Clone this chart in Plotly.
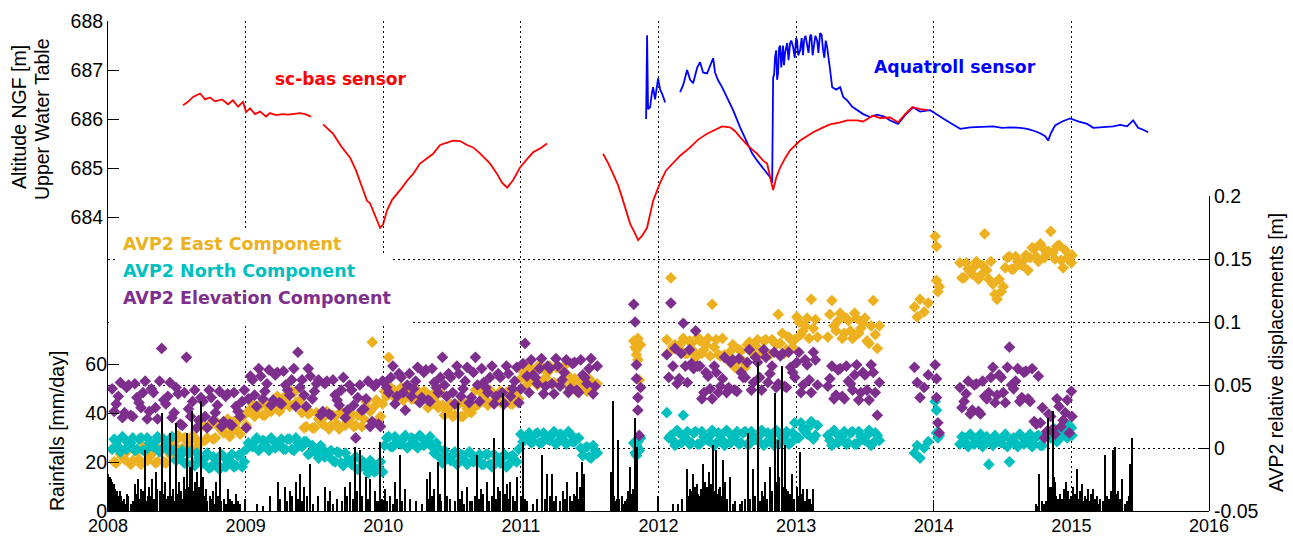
import plotly.graph_objects as go

# ---------------- Upper water table (m NGF) ----------------
t_scbas = [2008.545, 2008.581, 2008.618, 2008.669, 2008.705, 2008.741, 2008.778, 2008.828, 2008.872, 2008.908,
           2008.945, 2008.981, 2009.003, 2009.032, 2009.068, 2009.105, 2009.148, 2009.177, 2009.221, 2009.265,
           2009.308, 2009.359, 2009.395, 2009.432, 2009.475, None,
           2009.563, 2009.635, 2009.693, 2009.759, 2009.802, 2009.831, 2009.882, 2009.904, 2009.926, 2009.955,
           2009.977, 2009.999, 2010.027, 2010.064, 2010.100, 2010.137, 2010.173, 2010.217, 2010.267, 2010.318,
           2010.362, 2010.413, 2010.464, 2010.507, 2010.558, 2010.609, 2010.653, 2010.703, 2010.776, 2010.827,
           2010.863, 2010.900, 2010.943, 2010.994, 2011.045, 2011.089, 2011.140, 2011.190, None,
           2011.597, 2011.634, 2011.670, 2011.706, 2011.735, 2011.765, 2011.794, 2011.823, 2011.852, 2011.881,
           2011.917, 2011.961, 2012.012, 2012.055, 2012.106, 2012.157, 2012.230, 2012.288, 2012.353, 2012.411,
           2012.462, 2012.520, 2012.557, 2012.593, 2012.651, 2012.717, 2012.760, 2012.789, 2012.811, 2012.833,
           2012.855, 2012.884, 2012.920, 2012.956, 2013.029, 2013.124, 2013.189, 2013.247, 2013.320, 2013.371,
           2013.443, 2013.487, 2013.560, 2013.610, 2013.683, 2013.741, 2013.792, 2013.843, 2013.901, 2013.959]
v_scbas = [686.28, 686.35, 686.45, 686.52, 686.40, 686.44, 686.36, 686.40, 686.30, 686.38,
           686.25, 686.35, 686.14, 686.22, 686.10, 686.15, 686.05, 686.12, 686.08, 686.10,
           686.09, 686.10, 686.12, 686.10, 686.05, None,
           685.89, 685.70, 685.45, 685.21, 684.95, 684.74, 684.33, 684.28, 684.13, 683.92,
           683.78, 683.85, 684.13, 684.35, 684.47, 684.60, 684.74, 684.88, 685.09, 685.20,
           685.29, 685.47, 685.52, 685.56, 685.55, 685.47, 685.42, 685.30, 685.09, 684.88,
           684.70, 684.60, 684.75, 685.01, 685.18, 685.32, 685.40, 685.50, None,
           685.29, 685.10, 684.88, 684.65, 684.40, 684.12, 683.86, 683.70, 683.53, 683.62,
           683.78, 684.33, 684.70, 684.95, 685.09, 685.25, 685.42, 685.58, 685.70, 685.78,
           685.85, 685.83, 685.75, 685.63, 685.45, 685.29, 685.15, 685.09, 684.85, 684.55,
           684.80, 685.01, 685.20, 685.36, 685.56, 685.73, 685.82, 685.89, 685.93, 685.97,
           685.97, 685.95, 686.07, 686.02, 686.03, 685.93, 686.10, 686.24, 686.20, 686.18]

t_aqua = [2011.910, 2011.917, 2011.924, 2011.939, 2011.953, 2011.961, 2011.975, 2011.990, 2011.997, 2012.012,
          2012.026, 2012.048, None,
          2012.157, 2012.180, 2012.208, 2012.230, 2012.252, 2012.281, 2012.302, 2012.324, 2012.353, 2012.375,
          2012.397, 2012.411, 2012.433, 2012.462, 2012.498, 2012.542, 2012.593, 2012.644, 2012.680, 2012.717,
          2012.775, 2012.811, 2012.826, 2012.833, 2012.840, 2012.847, 2012.855, 2012.862, 2012.869, 2012.876,
          2012.884, 2012.892, 2012.905, 2012.912, 2012.920, 2012.935, 2012.945, 2012.956, 2012.965, 2012.978,
          2012.990, 2013.000, 2013.007, 2013.015, 2013.029, 2013.040, 2013.050, 2013.058, 2013.068, 2013.080,
          2013.090, 2013.102, 2013.110, 2013.120, 2013.131, 2013.140, 2013.153, 2013.162, 2013.174, 2013.185,
          2013.196, 2013.205, 2013.215, 2013.225,
          2013.247, 2013.262, 2013.291, 2013.320, 2013.342, 2013.371, 2013.408, 2013.443, 2013.487, 2013.538,
          2013.589, 2013.640, 2013.683, 2013.741, 2013.792, 2013.850, 2013.901, 2013.974, 2014.025, 2014.068,
          2014.134, 2014.192, 2014.265, 2014.337, 2014.432, 2014.497, 2014.555, 2014.628, 2014.680, 2014.737,
          2014.773, 2014.810, 2014.831, 2014.853, 2014.882, 2014.933, 2014.991, 2015.049, 2015.115, 2015.159,
          2015.209, 2015.260, 2015.304, 2015.355, 2015.405, 2015.449, 2015.485, 2015.522, 2015.558]
v_aqua = [686.00, 687.71, 686.20, 686.24, 686.55, 686.65, 686.40, 686.75, 686.83, 686.60,
          686.52, 686.34, None,
          686.55, 686.70, 687.00, 686.80, 686.73, 687.05, 687.16, 686.95, 686.93, 687.10,
          687.24, 686.95, 686.79, 686.65, 686.45, 686.18, 685.83, 685.50, 685.30, 685.15,
          684.95, 684.81, 684.70, 686.85, 686.90, 687.27, 687.40, 686.80, 686.95, 687.45,
          687.50, 687.05, 687.50, 687.10, 687.35, 687.55, 687.20, 687.55, 687.60, 687.47,
          687.25, 687.65, 687.60, 687.30, 687.40, 687.65, 687.30, 687.62, 687.70, 687.45,
          687.35, 687.70, 687.72, 687.30, 687.48, 687.70, 687.60, 687.35, 687.75, 687.72,
          687.40, 687.25, 687.60, 687.47,
          687.00, 686.65, 686.60, 686.65, 686.45, 686.38, 686.25, 686.18, 686.10, 686.04,
          686.09, 686.05, 685.97, 685.90, 686.08, 686.24, 686.15, 686.18, 686.08, 686.01,
          685.90, 685.80, 685.83, 685.84, 685.85, 685.82, 685.83, 685.82, 685.80, 685.75,
          685.71, 685.65, 685.56, 685.72, 685.87, 685.95, 686.01, 685.95, 685.90, 685.82,
          685.83, 685.85, 685.85, 685.88, 685.85, 685.97, 685.82, 685.78, 685.73]

# ---------------- AVP2 relative displacements (m) ----------------
# block 1 : 2008 - mid 2011 (two interleaved sample sets)
t_b1 = [2008.03, 2008.06, 2008.09, 2008.12, 2008.15, 2008.18, 2008.21, 2008.24, 2008.27, 2008.30,
        2008.33, 2008.36, 2008.39, 2008.42, 2008.45, 2008.48, 2008.51, 2008.54, 2008.57, 2008.60,
        2008.63, 2008.66, 2008.69, 2008.72, 2008.75, 2008.78, 2008.81, 2008.84, 2008.87, 2008.90,
        2008.93, 2008.96, 2008.99, 2009.02, 2009.05, 2009.08, 2009.11, 2009.14, 2009.17, 2009.20,
        2009.23, 2009.26, 2009.29, 2009.32, 2009.35, 2009.38, 2009.41, 2009.44, 2009.47, 2009.50,
        2009.53, 2009.56, 2009.59, 2009.62, 2009.65, 2009.68, 2009.71, 2009.74, 2009.77, 2009.80,
        2009.83, 2009.86, 2009.89, 2009.92, 2009.95, 2009.98, 2010.01, 2010.04, 2010.07, 2010.10,
        2010.13, 2010.16, 2010.19, 2010.22, 2010.25, 2010.28, 2010.31, 2010.34, 2010.37, 2010.40,
        2010.43, 2010.46, 2010.49, 2010.52, 2010.55, 2010.58, 2010.61, 2010.64, 2010.67, 2010.70,
        2010.73, 2010.76, 2010.79, 2010.82, 2010.85, 2010.88, 2010.91, 2010.94, 2010.97, 2011.00,
        2011.03, 2011.06, 2011.09, 2011.12, 2011.15, 2011.18, 2011.21, 2011.24, 2011.27, 2011.30,
        2011.33, 2011.36, 2011.39, 2011.42, 2011.45, 2011.48, 2011.51, 2011.54]
t_b1b = [2008.045, 2008.075, 2008.105, 2008.135, 2008.165, 2008.195, 2008.225, 2008.255, 2008.285, 2008.315,
         2008.345, 2008.375, 2008.405, 2008.435, 2008.465, 2008.495, 2008.525, 2008.555, 2008.585, 2008.615,
         2008.645, 2008.675, 2008.705, 2008.735, 2008.765, 2008.795, 2008.825, 2008.855, 2008.885, 2008.915,
         2008.945, 2008.975, 2009.005, 2009.035, 2009.065, 2009.095, 2009.125, 2009.155, 2009.185, 2009.215,
         2009.245, 2009.275, 2009.305, 2009.335, 2009.365, 2009.395, 2009.425, 2009.455, 2009.485, 2009.515,
         2009.545, 2009.575, 2009.605, 2009.635, 2009.665, 2009.695, 2009.725, 2009.755, 2009.785, 2009.815,
         2009.845, 2009.875, 2009.905, 2009.935, 2009.965, 2009.995, 2010.025, 2010.055, 2010.085, 2010.115,
         2010.145, 2010.175, 2010.205, 2010.235, 2010.265, 2010.295, 2010.325, 2010.355, 2010.385, 2010.415,
         2010.445, 2010.475, 2010.505, 2010.535, 2010.565, 2010.595, 2010.625, 2010.655, 2010.685, 2010.715,
         2010.745, 2010.775, 2010.805, 2010.835, 2010.865, 2010.895, 2010.925, 2010.955, 2010.985, 2011.015,
         2011.045, 2011.075, 2011.105, 2011.135, 2011.165, 2011.195, 2011.225, 2011.255, 2011.285, 2011.315,
         2011.345, 2011.375, 2011.405, 2011.435, 2011.465, 2011.495, 2011.525, 2011.555]
east_b1 = [-0.001, -0.012, -0.005, -0.009, 0.001, -0.010, -0.003, -0.013, -0.002, -0.007,
           0.000, -0.011, -0.001, -0.012, -0.005, 0.002, 0.010, 0.000, 0.006, -0.002,
           0.008, 0.003, 0.018, 0.008, 0.019, 0.008, 0.016, 0.012, 0.023, 0.013,
           0.020, 0.011, 0.026, 0.029, 0.035, 0.027, 0.034, 0.026, 0.031, 0.031,
           0.041, 0.032, 0.040, 0.033, 0.044, 0.036, 0.028, 0.017, 0.028, 0.016,
           0.023, 0.019, 0.029, 0.018, 0.025, 0.015, 0.026, 0.021, 0.027, 0.018,
           0.027, 0.023, 0.031, 0.084, 0.038, 0.025, 0.045, 0.072, 0.046, 0.042,
           0.048, 0.040, 0.047, 0.039, 0.044, 0.041, 0.044, 0.034, 0.040, 0.032,
           0.034, 0.029, 0.035, 0.026, 0.035, 0.025, 0.031, 0.028, 0.046, 0.036,
           0.042, 0.034, 0.044, 0.039, 0.045, 0.036, 0.045, 0.035, 0.041, 0.055,
           0.066, 0.053, 0.061, 0.050, 0.063, 0.056, 0.065, 0.052, 0.064, 0.051,
           0.059, 0.048, 0.055, 0.047, 0.052, 0.045, 0.053, 0.049]
east_b1b = [-0.011, 0.000, -0.007, -0.003, -0.013, -0.002, -0.009, 0.001, -0.010, -0.005,
            -0.012, -0.001, -0.011, 0.000, -0.007, 0.006, -0.002, 0.008, 0.002, 0.010,
            0.000, 0.005, 0.006, 0.018, 0.007, 0.020, 0.014, 0.018, 0.009, 0.021,
            0.014, 0.025, 0.018, 0.031, 0.025, 0.033, 0.026, 0.034, 0.029, 0.035,
            0.029, 0.040, 0.036, 0.045, 0.036, 0.038, 0.016, 0.027, 0.016, 0.028,
            0.021, 0.025, 0.015, 0.026, 0.019, 0.029, 0.018, 0.023, 0.017, 0.026,
            0.017, 0.037, 0.029, 0.033, 0.022, 0.035, 0.041, 0.048, 0.040, 0.044,
            0.038, 0.046, 0.039, 0.047, 0.042, 0.045, 0.032, 0.042, 0.036, 0.044,
            0.026, 0.031, 0.025, 0.034, 0.025, 0.035, 0.029, 0.032, 0.034, 0.044,
            0.038, 0.046, 0.036, 0.041, 0.035, 0.044, 0.035, 0.045, 0.039, 0.061,
            0.050, 0.063, 0.055, 0.066, 0.053, 0.060, 0.051, 0.064, 0.052, 0.065,
            0.057, 0.052, 0.045, 0.053, 0.048, 0.055, 0.047, 0.051]
north_b1 = [-0.001, 0.005, -0.003, 0.007, 0.002, 0.008, -0.001, 0.008, -0.002, 0.004,
            0.001, 0.009, -0.001, 0.005, -0.003, -0.002, -0.008, -0.002, -0.012, -0.003,
            -0.014, -0.008, -0.012, -0.004, -0.015, -0.009, -0.017, -0.007, -0.012, -0.005,
            -0.014, -0.005, -0.011, 0.004, 0.001, 0.008, 0.000, 0.005, -0.002, 0.006,
            0.002, 0.007, -0.001, 0.007, -0.002, 0.004, 0.001, 0.005, -0.004, 0.000,
            -0.008, -0.001, -0.006, -0.002, -0.011, -0.004, -0.014, -0.010, -0.013, -0.007,
            -0.016, -0.012, -0.020, -0.013, -0.018, -0.011, 0.002, 0.009, 0.001, 0.006,
            0.003, 0.010, 0.002, 0.007, 0.000, 0.008, 0.004, 0.009, -0.004, 0.000,
            -0.012, -0.008, -0.010, -0.003, -0.011, -0.006, -0.013, -0.005, -0.010, -0.005,
            -0.013, -0.005, -0.015, -0.010, -0.012, -0.005, -0.013, -0.006, -0.011, 0.011,
            0.007, 0.012, 0.005, 0.012, 0.004, 0.009, 0.006, 0.013, 0.005, 0.010,
            0.003, 0.011, 0.005, 0.008, -0.006, 0.001, -0.008, -0.002]
north_b1b = [0.007, 0.001, 0.009, -0.001, 0.004, -0.002, 0.007, -0.002, 0.008, 0.002,
             0.005, -0.003, 0.007, 0.001, 0.009, -0.010, -0.006, -0.012, -0.004, -0.013,
             -0.004, -0.010, -0.008, -0.016, -0.007, -0.013, -0.005, -0.015, -0.010, -0.015,
             -0.006, -0.015, -0.001, 0.002, 0.005, -0.002, 0.006, 0.001, 0.008, 0.000,
             0.004, -0.001, 0.007, -0.001, 0.008, 0.002, 0.005, -0.005, 0.002, -0.004,
             0.002, -0.007, -0.004, -0.010, -0.003, -0.012, -0.004, -0.010, -0.009, -0.017,
             -0.010, -0.016, -0.010, -0.019, -0.016, -0.019, 0.008, 0.001, 0.009, 0.004,
             0.007, 0.000, 0.008, 0.003, 0.010, 0.002, 0.006, 0.001, 0.004, -0.008,
             -0.002, -0.008, -0.006, -0.013, -0.005, -0.010, -0.003, -0.011, -0.008, -0.013,
             -0.005, -0.013, -0.005, -0.010, -0.008, -0.015, -0.007, -0.010, -0.001, 0.005,
             0.009, 0.004, 0.011, 0.004, 0.012, 0.007, 0.010, 0.003, 0.011, 0.006,
             0.013, 0.005, 0.007, 0.000, 0.000, -0.007, 0.002, -0.004]
elev_b1 = [0.047, 0.035, 0.052, 0.028, 0.050, 0.025, 0.040, 0.032, 0.053, 0.029,
           0.044, 0.023, 0.079, 0.035, 0.052, 0.028, 0.043, 0.018, 0.072, 0.025,
           0.046, 0.022, 0.037, 0.016, 0.040, 0.028, 0.045, 0.021, 0.043, 0.018,
           0.033, 0.025, 0.046, 0.039, 0.054, 0.033, 0.057, 0.045, 0.062, 0.038,
           0.060, 0.035, 0.050, 0.042, 0.063, 0.076, 0.054, 0.033, 0.057, 0.045,
           0.054, 0.029, 0.053, 0.026, 0.042, 0.034, 0.056, 0.030, 0.046, 0.008,
           0.050, 0.031, 0.053, 0.021, 0.051, 0.017, 0.052, 0.044, 0.065, 0.041,
           0.056, 0.030, 0.059, 0.047, 0.064, 0.040, 0.062, 0.037, 0.052, 0.044,
           0.072, 0.041, 0.056, 0.035, 0.059, 0.047, 0.064, 0.040, 0.072, 0.037,
           0.052, 0.044, 0.065, 0.041, 0.056, 0.035, 0.059, 0.047, 0.064, 0.047,
           0.083, 0.044, 0.058, 0.051, 0.071, 0.049, 0.063, 0.043, 0.065, 0.054,
           0.070, 0.047, 0.068, 0.044, 0.058, 0.051, 0.071, 0.049]
elev_b1b = [0.029, 0.041, 0.024, 0.048, 0.026, 0.051, 0.036, 0.044, 0.023, 0.047,
            0.032, 0.053, 0.038, 0.041, 0.024, 0.048, 0.019, 0.044, 0.031, 0.037,
            0.016, 0.040, 0.025, 0.046, 0.022, 0.034, 0.017, 0.041, 0.019, 0.044,
            0.029, 0.037, 0.016, 0.057, 0.042, 0.063, 0.039, 0.051, 0.034, 0.058,
            0.036, 0.061, 0.046, 0.054, 0.033, 0.048, 0.042, 0.063, 0.039, 0.051,
            0.026, 0.051, 0.027, 0.054, 0.038, 0.046, 0.024, 0.050, 0.034, 0.040,
            0.030, 0.039, 0.017, 0.049, 0.019, 0.053, 0.048, 0.056, 0.035, 0.059,
            0.044, 0.050, 0.041, 0.053, 0.036, 0.060, 0.038, 0.063, 0.048, 0.056,
            0.050, 0.059, 0.044, 0.065, 0.041, 0.053, 0.036, 0.060, 0.050, 0.063,
            0.048, 0.056, 0.035, 0.059, 0.044, 0.065, 0.041, 0.053, 0.036, 0.067,
            0.057, 0.070, 0.056, 0.063, 0.043, 0.065, 0.051, 0.071, 0.049, 0.060,
            0.044, 0.067, 0.046, 0.070, 0.056, 0.063, 0.043, 0.065]

# cluster late 2011
t_c1 = [2011.82, 2011.83, 2011.84, 2011.84, 2011.85, 2011.85, 2011.86, 2011.87]
east_c1 = [0.085, 0.080, 0.074, 0.078, 0.070, 0.087, 0.054, 0.082]
north_c1 = [0.004, -0.004, 0.002, -0.006, 0.000, 0.005, -0.002, 0.008]
elev_c1 = [0.114, 0.100, 0.066, 0.055, 0.040, 0.030, 0.010, 0.048]

# block 2 : 2012 - mid 2013
t_b2 = [2012.06, 2012.09, 2012.12, 2012.15, 2012.18, 2012.21, 2012.24, 2012.27, 2012.30, 2012.33,
        2012.36, 2012.39, 2012.42, 2012.45, 2012.48, 2012.51, 2012.54, 2012.57, 2012.60, 2012.63,
        2012.66, 2012.69, 2012.72, 2012.75, 2012.78, 2012.81, 2012.84, 2012.87, 2012.90, 2012.93,
        2012.96, 2012.99, 2013.02, 2013.05, 2013.08, 2013.11, 2013.14, 2013.23, 2013.26, 2013.29,
        2013.32, 2013.35, 2013.38, 2013.41, 2013.44, 2013.47, 2013.50, 2013.53, 2013.56, 2013.59]
t_b2b = [2012.075, 2012.105, 2012.135, 2012.165, 2012.195, 2012.225, 2012.255, 2012.285, 2012.315, 2012.345,
         2012.375, 2012.405, 2012.435, 2012.465, 2012.495, 2012.525, 2012.555, 2012.585, 2012.615, 2012.645,
         2012.675, 2012.705, 2012.735, 2012.765, 2012.795, 2012.825, 2012.855, 2012.885, 2012.915, 2012.945,
         2012.975, 2013.005, 2013.035, 2013.065, 2013.095, 2013.125, 2013.155, 2013.245, 2013.275, 2013.305,
         2013.335, 2013.365, 2013.395, 2013.425, 2013.455, 2013.485, 2013.515, 2013.545, 2013.575, 2013.605]
east_b2 = [0.086, 0.135, 0.082, 0.079, 0.087, 0.075, 0.083, 0.072, 0.085, 0.078,
           0.087, 0.114, 0.086, 0.073, 0.074, 0.069, 0.082, 0.068, 0.077, 0.064,
           0.084, 0.079, 0.086, 0.075, 0.086, 0.074, 0.084, 0.106, 0.091, 0.078,
           0.086, 0.086, 0.100, 0.093, 0.103, 0.118, 0.102, 0.088, 0.117, 0.093,
           0.107, 0.091, 0.101, 0.087, 0.103, 0.095, 0.103, 0.083, 0.117, 0.079]
east_b2b = [0.076, 0.081, 0.080, 0.083, 0.075, 0.085, 0.077, 0.088, 0.075, 0.082,
            0.073, 0.080, 0.074, 0.087, 0.072, 0.077, 0.064, 0.078, 0.069, 0.082,
            0.076, 0.081, 0.074, 0.085, 0.074, 0.086, 0.082, 0.083, 0.075, 0.088,
            0.080, 0.104, 0.090, 0.097, 0.087, 0.095, 0.088, 0.106, 0.097, 0.101,
            0.087, 0.103, 0.093, 0.107, 0.091, 0.099, 0.085, 0.097, 0.090, 0.097]
north_b2 = [0.028, 0.010, 0.002, 0.012, 0.026, 0.013, 0.004, 0.013, 0.003, 0.009,
            0.006, 0.014, 0.004, 0.010, 0.002, 0.012, 0.007, 0.013, 0.004, 0.013,
            0.003, 0.009, 0.006, 0.014, 0.004, 0.010, 0.002, 0.012, 0.007, 0.013,
            0.004, 0.020, 0.008, 0.015, 0.011, 0.021, 0.010, 0.010, 0.002, 0.012,
            0.007, 0.013, 0.004, 0.013, 0.003, 0.009, 0.006, 0.014, 0.004, 0.010]
north_b2b = [0.008, 0.006, 0.014, 0.004, 0.008, 0.003, 0.012, 0.003, 0.013, 0.007,
             0.010, 0.002, 0.012, 0.006, 0.014, 0.004, 0.009, 0.003, 0.012, 0.003,
             0.013, 0.007, 0.010, 0.002, 0.012, 0.006, 0.014, 0.004, 0.009, 0.003,
             0.012, 0.008, 0.020, 0.013, 0.017, 0.007, 0.018, 0.006, 0.014, 0.004,
             0.009, 0.003, 0.012, 0.003, 0.013, 0.007, 0.010, 0.002, 0.012, 0.006]
elev_b2 = [0.074, 0.115, 0.079, 0.055, 0.099, 0.052, 0.067, 0.093, 0.065, 0.044,
           0.057, 0.039, 0.060, 0.049, 0.072, 0.048, 0.070, 0.045, 0.060, 0.056,
           0.078, 0.052, 0.068, 0.046, 0.072, 0.059, 0.076, 0.051, 0.075, 0.048,
           0.064, 0.056, 0.076, 0.050, 0.066, 0.044, 0.070, 0.049, 0.065, 0.042,
           0.063, 0.039, 0.053, 0.046, 0.066, 0.044, 0.058, 0.038, 0.060, 0.026]
elev_b2b = [0.056, 0.065, 0.051, 0.075, 0.065, 0.078, 0.063, 0.065, 0.039, 0.060,
            0.047, 0.065, 0.044, 0.055, 0.044, 0.068, 0.046, 0.071, 0.056, 0.068,
            0.046, 0.072, 0.056, 0.078, 0.052, 0.065, 0.048, 0.073, 0.049, 0.076,
            0.060, 0.068, 0.044, 0.070, 0.054, 0.076, 0.050, 0.055, 0.039, 0.062,
            0.041, 0.065, 0.051, 0.058, 0.038, 0.060, 0.046, 0.066, 0.044, 0.052]

# clusters end 2013 / start 2014
t_c2 = [2013.86, 2013.88, 2013.90, 2013.93, 2013.96, 2014.01, 2014.02, 2014.02, 2014.03, 2014.04]
east_c2 = [0.112, 0.104, 0.118, 0.108, 0.115, 0.168, 0.160, 0.133, 0.124, 0.128]
north_c2 = [-0.004, 0.002, -0.008, 0.000, 0.005, 0.037, 0.030, 0.012, 0.008, 0.010]
elev_c2 = [0.064, 0.052, 0.040, 0.048, 0.058, 0.066, 0.055, 0.040, 0.020, 0.012]

# block 3 : spring 2014 - 2015
t_b3 = [2014.19, 2014.22, 2014.25, 2014.28, 2014.31, 2014.34, 2014.37, 2014.40, 2014.43, 2014.46,
        2014.49, 2014.52, 2014.55, 2014.58, 2014.61, 2014.64, 2014.67, 2014.70, 2014.73, 2014.76,
        2014.79, 2014.82, 2014.85, 2014.88, 2014.91, 2014.94, 2014.97, 2015.00]
t_b3b = [2014.205, 2014.235, 2014.265, 2014.295, 2014.325, 2014.355, 2014.385, 2014.415, 2014.445, 2014.475,
         2014.505, 2014.535, 2014.565, 2014.595, 2014.625, 2014.655, 2014.685, 2014.715, 2014.745, 2014.775,
         2014.805, 2014.835, 2014.865, 2014.895, 2014.925, 2014.955, 2014.985, 2015.005]
east_b3 = [0.147, 0.135, 0.142, 0.138, 0.148, 0.137, 0.170, 0.134, 0.130, 0.118,
           0.124, 0.143, 0.152, 0.142, 0.148, 0.145, 0.153, 0.151, 0.158, 0.148,
           0.159, 0.154, 0.172, 0.150, 0.161, 0.143, 0.151, 0.147]
east_b3b = [0.135, 0.147, 0.140, 0.144, 0.134, 0.145, 0.141, 0.148, 0.122, 0.134,
            0.128, 0.151, 0.142, 0.152, 0.146, 0.149, 0.141, 0.159, 0.152, 0.162,
            0.151, 0.156, 0.155, 0.160, 0.149, 0.157, 0.149, 0.153]
north_b3 = [0.003, 0.008, 0.001, 0.009, 0.005, 0.011, 0.003, -0.013, 0.002, 0.007,
            0.004, 0.011, -0.011, 0.008, 0.001, 0.009, 0.005, 0.011, 0.003, 0.010,
            0.002, 0.011, 0.008, 0.015, 0.007, 0.015, 0.008, 0.016]
north_b3b = [0.009, 0.004, 0.011, 0.003, 0.007, 0.001, 0.009, 0.006, 0.010, 0.005,
             0.008, 0.001, 0.006, 0.004, 0.011, 0.003, 0.007, 0.001, 0.009, 0.002,
             0.010, 0.009, 0.012, 0.005, 0.013, 0.011, 0.018, 0.010]
elev_b3 = [0.048, 0.037, 0.053, 0.030, 0.051, 0.027, 0.041, 0.044, 0.064, 0.042,
           0.056, 0.036, 0.080, 0.047, 0.063, 0.040, 0.061, 0.037, 0.021, 0.057,
           0.032, 0.013, 0.025, 0.011, 0.033, 0.022, 0.038, 0.045]
elev_b3b = [0.032, 0.043, 0.027, 0.050, 0.029, 0.053, 0.039, 0.056, 0.036, 0.058,
            0.044, 0.064, 0.050, 0.053, 0.037, 0.060, 0.039, 0.063, 0.019, 0.020,
            0.008, 0.027, 0.015, 0.039, 0.017, 0.028, 0.012, 0.025]

# ---------------- Daily rainfall (mm/day) ----------------
t_rain = [2008.000, 2008.015, 2008.029, 2008.051, 2008.073, 2008.087, 2008.109, 2008.138, 2008.167, 2008.196,
          2008.218, 2008.240, 2008.269, 2008.291, 2008.320, 2008.349, 2008.378, 2008.392, 2008.414, 2008.436,
          2008.451, 2008.472, 2008.494, 2008.516, 2008.531, 2008.552, 2008.574, 2008.596, 2008.610, 2008.632,
          2008.647, 2008.661, 2008.676, 2008.690, 2008.712, 2008.741, 2008.763, 2008.785, 2008.814, 2008.843,
          2008.872, 2008.901, 2008.930, 2008.959, 2008.996, 2009.083, 2009.126, 2009.177, 2009.235, 2009.286,
          2009.323, 2009.366, 2009.395, 2009.424, 2009.468, 2009.526, 2009.577, 2009.613, 2009.664, 2009.722,
          2009.759, 2009.795, 2009.831, 2009.875, 2009.904, 2009.940, 2009.977, 2010.013, 2010.049, 2010.086,
          2010.122, 2010.158, 2010.195, 2010.238, 2010.282, 2010.318, 2010.340, 2010.369, 2010.398, 2010.413,
          2010.449, 2010.485, 2010.544, 2010.573, 2010.609, 2010.645, 2010.682, 2010.711, 2010.754, 2010.805,
          2010.834, 2010.871, 2010.900, 2010.922, 2010.943, 2010.972, 2011.016, 2011.045, 2011.089, 2011.118,
          2011.154, 2011.190, 2011.227, 2011.256, 2011.285, 2011.307, 2011.336, 2011.357, 2011.387, 2011.408,
          2011.430, 2011.445, 2011.459, 2011.655, 2011.670, 2011.699, 2011.706, 2011.735, 2011.757, 2011.779,
          2011.794, 2011.830, 2011.844, 2011.997, 2012.106, 2012.142, 2012.172, 2012.208, 2012.230, 2012.252,
          2012.281, 2012.302, 2012.324, 2012.339, 2012.353, 2012.368, 2012.397, 2012.419, 2012.448, 2012.469,
          2012.484, 2012.520, 2012.557, 2012.593, 2012.630, 2012.651, 2012.688, 2012.724, 2012.753, 2012.775,
          2012.811, 2012.847, 2012.869, 2012.898, 2012.920, 2012.942, 2012.971, 2013.007, 2013.029, 2013.051,
          2013.080, 2013.102, 2013.124, 2014.744, 2014.766, 2014.788, 2014.831, 2014.846, 2014.868, 2014.882,
          2014.904, 2014.919, 2014.948, 2014.962, 2014.991, 2015.013, 2015.042, 2015.064, 2015.078, 2015.100,
          2015.122, 2015.144, 2015.159, 2015.188, 2015.209, 2015.246, 2015.275, 2015.304, 2015.318, 2015.340,
          2015.369, 2015.405, 2015.430, 2015.442]
rain_mm = [15, 14, 12, 9, 6, 8, 4, 7, 3, 11,
           13, 9, 25, 6, 13, 16, 8, 40, 12, 6,
           32, 9, 36, 12, 8, 14, 32, 18, 41, 12,
           16, 10, 45, 14, 9, 6, 8, 12, 26, 5,
           9, 4, 7, 3, 5, 3, 2, 6, 12, 10,
           8, 12, 15, 10, 19, 6, 10, 8, 5, 10,
           12, 26, 25, 14, 13, 8, 28, 9, 6, 12,
           23, 9, 5, 4, 3, 13, 16, 9, 20, 7,
           40, 5, 44, 8, 10, 4, 23, 9, 12, 30,
           10, 48, 11, 12, 6, 14, 28, 4, 3, 5,
           23, 15, 15, 6, 4, 8, 12, 6, 7, 16,
           10, 20, 15, 16, 45, 5, 29, 6, 4, 8,
           18, 38, 26, 6, 3, 3, 5, 17, 9, 15,
           11, 6, 19, 12, 10, 16, 27, 25, 10, 21,
           12, 14, 4, 3, 5, 32, 17, 61, 8, 12,
           18, 48, 29, 59, 27, 8, 15, 10, 24, 9,
           9, 5, 9, 3, 15, 4, 38, 10, 41, 12,
           5, 7, 9, 12, 5, 10, 17, 8, 11, 6,
           9, 7, 9, 6, 5, 23, 5, 25, 26, 8,
           13, 4, 19, 30]
t_rain_small = [2008.007, 2008.022, 2008.036, 2008.044, 2008.058, 2008.065, 2008.080, 2008.095, 2008.102, 2008.120,
                2008.130, 2008.150, 2008.180, 2008.205, 2008.226, 2008.255, 2008.280, 2008.300, 2008.310, 2008.335,
                2008.360, 2008.400, 2008.425, 2008.460, 2008.480, 2008.505, 2008.540, 2008.560, 2008.585, 2008.620,
                2008.640, 2008.655, 2008.668, 2008.683, 2008.698, 2008.720, 2008.750, 2008.775, 2008.800, 2008.825,
                2008.860, 2008.890, 2008.915, 2008.945, 2009.250, 2009.300, 2009.340, 2009.380, 2009.410, 2009.450,
                2009.490, 2009.600, 2009.640, 2009.700, 2009.740, 2009.780, 2009.810, 2009.850, 2009.890, 2009.960,
                2009.990, 2010.030, 2010.070, 2010.100, 2010.140, 2010.330, 2010.355, 2010.420, 2010.465, 2010.520,
                2010.560, 2010.590, 2010.630, 2010.665, 2010.695, 2010.730, 2010.770, 2010.790, 2010.820, 2010.850,
                2010.885, 2010.910, 2010.960, 2011.000, 2011.030, 2011.175, 2011.210, 2011.240, 2011.320, 2011.370,
                2011.400, 2011.420, 2011.440, 2011.452, 2011.662, 2011.680, 2011.690, 2011.715, 2011.745, 2011.770,
                2011.786, 2011.810, 2011.820, 2011.838, 2012.215, 2012.240, 2012.265, 2012.290, 2012.310, 2012.330,
                2012.346, 2012.360, 2012.380, 2012.405, 2012.430, 2012.440, 2012.460, 2012.476, 2012.500, 2012.540,
                2012.610, 2012.670, 2012.700, 2012.740, 2012.765, 2012.790, 2012.825, 2012.858, 2012.880, 2012.910,
                2012.930, 2012.955, 2012.985, 2013.015, 2013.040, 2013.065, 2013.090, 2013.112, 2014.755, 2014.800,
                2014.815, 2014.838, 2014.855, 2014.875, 2014.890, 2014.912, 2014.930, 2014.940, 2014.955, 2014.975,
                2014.985, 2015.000, 2015.025, 2015.050, 2015.070, 2015.090, 2015.110, 2015.130, 2015.150, 2015.170,
                2015.200, 2015.230, 2015.260, 2015.290, 2015.312, 2015.330, 2015.355, 2015.390, 2015.420, 2015.436]
rain_small = [10, 13, 7, 11, 5, 8, 4, 6, 3, 5,
              3, 6, 4, 7, 5, 8, 4, 10, 6, 5,
              9, 7, 5, 6, 4, 7, 5, 9, 10, 8,
              11, 7, 9, 12, 6, 4, 5, 3, 6, 4,
              3, 5, 3, 4, 5, 4, 6, 5, 4, 6,
              3, 4, 3, 4, 6, 5, 8, 6, 5, 4,
              5, 4, 3, 5, 4, 5, 6, 4, 6, 4,
              5, 3, 4, 6, 5, 7, 4, 6, 5, 8,
              7, 5, 4, 6, 5, 5, 6, 4, 5, 4,
              6, 5, 8, 6, 8, 6, 4, 5, 3, 5,
              6, 7, 9, 10, 6, 8, 10, 7, 9, 8,
              6, 9, 11, 8, 7, 9, 6, 8, 5, 3,
              4, 5, 6, 4, 6, 5, 8, 12, 14, 10,
              9, 7, 5, 6, 7, 4, 5, 3, 2, 3,
              4, 8, 10, 14, 6, 3, 5, 4, 6, 8,
              4, 6, 7, 5, 6, 4, 5, 4, 6, 5,
              3, 4, 6, 8, 10, 7, 5, 3, 6, 15]

# ---------------- Axis ticks and labels ----------------
year_ticks = [2008, 2009, 2010, 2011, 2012, 2013, 2014, 2015, 2016]
year_labels = ["2008", "2009", "2010", "2011", "2012", "2013", "2014", "2015", "2016"]
wt_ticks = [684, 685, 686, 687, 688]
rain_ticks = [0, 20, 40, 60]
disp_ticks = [-0.05, 0, 0.05, 0.1, 0.15, 0.2]
disp_labels = ["-0.05", "0", "0.05", "0.1", "0.15", "0.2"]

C_EAST = "#EDB120"
C_NORTH = "#00BFBF"
C_ELEV = "#7E2F8E"

t_avp = t_b1 + t_b1b + t_c1 + t_b2 + t_b2b + t_c2 + t_b3 + t_b3b
east = east_b1 + east_b1b + east_c1 + east_b2 + east_b2b + east_c2 + east_b3 + east_b3b
north = north_b1 + north_b1b + north_c1 + north_b2 + north_b2b + north_c2 + north_b3 + north_b3b
elev = elev_b1 + elev_b1b + elev_c1 + elev_b2 + elev_b2b + elev_c2 + elev_b3 + elev_b3b

fig = go.Figure()
fig.add_trace(go.Scatter(x=t_aqua, y=v_aqua, mode="lines", line=dict(color="#0000FF", width=1.8),
                         xaxis="x", yaxis="y", hoverinfo="skip"))
fig.add_trace(go.Scatter(x=t_scbas, y=v_scbas, mode="lines", line=dict(color="#FF0000", width=1.8),
                         xaxis="x", yaxis="y", hoverinfo="skip"))
for vals, col in [(east, C_EAST), (north, C_NORTH), (elev, C_ELEV)]:
    fig.add_trace(go.Scatter(x=t_avp, y=vals, mode="markers",
                             marker=dict(symbol="diamond", size=9, color=col, line=dict(width=0)),
                             xaxis="x", yaxis="y2", hoverinfo="skip"))
fig.add_trace(go.Bar(x=t_rain + t_rain_small, y=rain_mm + rain_small, width=0.011,
                     marker=dict(color="black", line=dict(width=0)),
                     xaxis="x", yaxis="y3", hoverinfo="skip"))

TICKFONT = dict(family="Liberation Sans, Arial, sans-serif", size=19.5, color="black")
XTICKFONT = dict(family="Liberation Sans, Arial, sans-serif", size=18, color="black")
GRIDDASH = "2px,3px"

fig.update_layout(
    width=1293, height=536,
    margin=dict(l=108, r=84, t=21, b=25, autoexpand=False),
    paper_bgcolor="white", plot_bgcolor="rgba(0,0,0,0)",
    showlegend=False, bargap=0,
    font=TICKFONT,
    xaxis=dict(range=[2008, 2016], tickvals=year_ticks, ticktext=year_labels, ticks="inside", ticklen=11,
               tickcolor="black", showline=True, linecolor="black", linewidth=1, showgrid=True,
               gridcolor="black", gridwidth=1, griddash=GRIDDASH, zeroline=False, anchor="y",
               tickfont=XTICKFONT, automargin=False),
    yaxis=dict(domain=[0, 1], range=[678, 688], tickvals=wt_ticks, ticks="inside", ticklen=11,
               tickcolor="black", showline=True, linecolor="black", linewidth=1, showgrid=False,
               zeroline=False, anchor="x", side="left", tickfont=TICKFONT, automargin=False),
    yaxis2=dict(domain=[0, 315 / 490], range=[-0.05, 0.2], tickvals=disp_ticks, ticktext=disp_labels,
                ticks="inside", ticklen=11, tickcolor="black", showline=True, linecolor="black", linewidth=1,
                showgrid=True, gridcolor="black", gridwidth=1, griddash=GRIDDASH, zeroline=False,
                anchor="x", side="right", tickfont=TICKFONT, automargin=False),
    yaxis3=dict(overlaying="y2", range=[0, 315 / 2.45], tickvals=rain_ticks, ticks="inside", ticklen=11,
                tickcolor="black", showline=False, showgrid=False, zeroline=False, anchor="x", side="left",
                tickfont=TICKFONT, automargin=False),
)
try:
    fig.update_xaxes(ticklabelstandoff=-2)
except Exception:
    pass

BOLD = "DejaVu Sans, Verdana, sans-serif"
W, H, L, T = 1101.0, 490.0, 108.0, 21.0


def px(xp):
    return (xp - L) / W


def py(yp):
    return (T + H - yp) / H


# white background of the lower part of the legend block (hides the grid behind it)
fig.add_shape(type="rect", xref="paper", yref="paper", x0=px(109), x1=px(412), y0=py(325), y1=py(284),
              fillcolor="white", line=dict(width=0), layer="above")

ann = []
ann.append(dict(text="<b>sc-bas sensor</b>", x=px(273), y=py(79), xanchor="left", yanchor="middle",
                font=dict(family=BOLD, size=17, color="#FF0000")))
ann.append(dict(text="<b>Aquatroll sensor</b>", x=px(872), y=py(67), xanchor="left", yanchor="middle",
                font=dict(family=BOLD, size=17.3, color="#0000FF")))
legend_items = [("AVP2 East Component", C_EAST, 244, None),
                ("AVP2 North Component", C_NORTH, 271, 262),
                ("AVP2 Elevation Component", C_ELEV, 298, None)]
for label, col, yy, wbox in legend_items:
    a = dict(text="<b>" + label + "</b>", x=px(117), y=py(yy), xanchor="left", yanchor="middle",
             font=dict(family=BOLD, size=17.5, color=col), bgcolor="white", borderpad=5, align="left")
    if wbox:
        a["width"] = wbox
    ann.append(a)
ann.append(dict(text="Altitude NGF [m]", x=px(19), y=py(117), xanchor="center", yanchor="middle",
                textangle=-90, font=TICKFONT))
ann.append(dict(text="Upper Water Table", x=px(42), y=py(119), xanchor="center", yanchor="middle",
                textangle=-90, font=TICKFONT))
ann.append(dict(text="Rainfalls [mm/day]", x=px(57), y=py(431), xanchor="center", yanchor="middle",
                textangle=-90, font=TICKFONT))
ann.append(dict(text="AVP2 relative displacements [m]", x=px(1276), y=py(353), xanchor="center",
                yanchor="middle", textangle=-90, font=TICKFONT))
for a in ann:
    a.update(xref="paper", yref="paper", showarrow=False)
fig.update_layout(annotations=ann)

fig.write_html("out.html")
